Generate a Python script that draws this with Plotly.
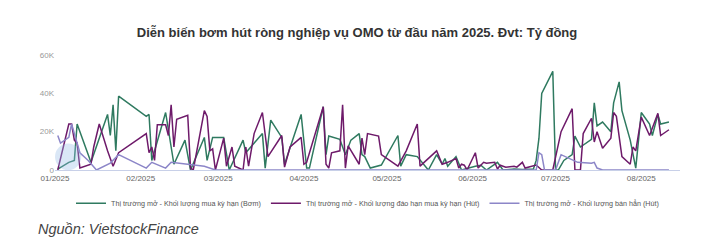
import plotly.graph_objects as go

# ---- Data (tỷ đồng) ----
bom_dates = ["2025-01-02","2025-01-06","2025-01-08","2025-01-09","2025-01-14","2025-01-20","2025-01-21","2025-01-22","2025-01-23","2025-01-24",
             "2025-02-03","2025-02-04","2025-02-05","2025-02-10","2025-02-13","2025-02-17","2025-02-19","2025-02-24","2025-02-25","2025-02-27",
             "2025-03-03","2025-03-05","2025-03-10","2025-03-11","2025-03-17","2025-03-18","2025-03-20","2025-03-24","2025-03-25","2025-03-31",
             "2025-04-02","2025-04-03","2025-04-08","2025-04-09","2025-04-10","2025-04-14","2025-04-16","2025-04-18","2025-04-21","2025-04-22",
             "2025-04-23","2025-04-25","2025-04-29","2025-05-05","2025-05-06","2025-05-08","2025-05-12","2025-05-16","2025-05-19","2025-05-21",
             "2025-05-22","2025-05-23","2025-05-26","2025-05-28","2025-06-02","2025-06-04","2025-06-06","2025-06-10","2025-06-12","2025-06-16",
             "2025-06-19","2025-06-23","2025-06-24","2025-06-25","2025-06-26","2025-06-30","2025-07-01","2025-07-02","2025-07-04","2025-07-07",
             "2025-07-08","2025-07-10","2025-07-14","2025-07-15","2025-07-16","2025-07-18","2025-07-21","2025-07-22","2025-07-24","2025-07-25",
             "2025-07-28","2025-07-30","2025-08-01","2025-08-04","2025-08-05","2025-08-07","2025-08-08","2025-08-11"]
bom_vals = [500,4000,5000,24000,4000,29000,18000,34000,10000,38500,
            28000,29000,5000,30000,3000,15600,0,17000,5000,17000,
            17000,0,15600,9000,19000,1000,26000,17000,3000,29000,
            1000,1000,33000,8000,17700,16000,8000,15600,19000,8000,
            7000,1000,2600,18000,2000,8000,7000,0,8000,3000,
            6000,2000,7000,0,2000,2500,0,4000,0,500,
            300,500,5000,16600,40000,51500,0,0,5000,8000,
            17700,12000,16000,35000,23000,25000,20000,35000,46000,31000,
            15600,1000,30000,24000,18000,29000,24000,25000]

dao_han_dates = ["2025-01-02","2025-01-06","2025-01-07","2025-01-08","2025-01-09","2025-01-10","2025-01-14","2025-01-15","2025-01-17","2025-01-20",
                 "2025-01-22","2025-01-24","2025-02-03","2025-02-04","2025-02-05","2025-02-06","2025-02-07","2025-02-10","2025-02-11","2025-02-12",
                 "2025-02-13","2025-02-14","2025-02-18","2025-02-19","2025-02-20","2025-02-24","2025-02-25","2025-02-26","2025-02-27","2025-02-28",
                 "2025-03-03","2025-03-04","2025-03-06","2025-03-07","2025-03-10","2025-03-11","2025-03-12","2025-03-14","2025-03-17","2025-03-19",
                 "2025-03-24","2025-03-25","2025-03-27","2025-03-31","2025-04-01","2025-04-02","2025-04-08","2025-04-09","2025-04-10","2025-04-11",
                 "2025-04-14","2025-04-15","2025-04-16","2025-04-17","2025-04-21","2025-04-22","2025-04-23","2025-04-24","2025-04-28","2025-04-29",
                 "2025-05-05","2025-05-08","2025-05-12","2025-05-13","2025-05-19","2025-05-21","2025-05-23","2025-05-26","2025-05-27","2025-05-28",
                 "2025-05-29","2025-05-30","2025-06-02","2025-06-03","2025-06-05","2025-06-06","2025-06-09","2025-06-10","2025-06-11","2025-06-13",
                 "2025-06-16","2025-06-17","2025-06-19","2025-06-20","2025-06-24","2025-06-26","2025-06-30","2025-07-03","2025-07-07","2025-07-08",
                 "2025-07-10","2025-07-11","2025-07-14","2025-07-15","2025-07-16","2025-07-18","2025-07-21","2025-07-22","2025-07-23","2025-07-25",
                 "2025-07-28","2025-07-29","2025-07-30","2025-08-01","2025-08-04","2025-08-07","2025-08-08","2025-08-11"]
dao_han_vals = [0,24000,24000,15600,14000,1000,3000,12000,24000,10000,
                2000,9000,19000,9000,12000,5000,23600,23600,18000,34000,
                12000,26500,28600,1000,0,31000,28000,10000,11000,0,
                16600,2000,12000,2000,0,12000,2000,19000,30000,7000,
                18000,1500,12000,17000,3000,4000,33000,3000,1000,9000,
                10000,34000,1000,12600,3000,16600,8000,19000,17700,8000,
                2000,10000,24000,2000,10000,3000,4000,6000,1000,3000,
                2500,0,9000,1000,4000,3500,4000,500,2500,1500,
                2000,1500,4000,1000,2600,0,0,20000,32000,0,
                0,19000,27000,14600,20000,11400,16600,30000,28000,7000,
                3000,12000,10000,27600,18000,29600,18000,21000]

ban_han_dates = ["2025-01-02","2025-01-03","2025-01-06","2025-01-07","2025-01-10","2025-01-13","2025-01-16","2025-01-21","2025-01-24","2025-02-03",
                 "2025-02-05","2025-02-10","2025-02-12","2025-02-18","2025-02-24","2025-02-28","2025-03-14","2025-04-15","2025-05-15","2025-06-16",
                 "2025-06-24","2025-06-25","2025-06-26","2025-06-27","2025-07-01","2025-07-03","2025-07-09","2025-07-14","2025-07-15","2025-07-16",
                 "2025-07-18","2025-07-28","2025-08-11"]
ban_han_vals = [18000,14000,17000,24000,9000,5000,0,3600,8000,1000,
                4000,1000,4000,3000,2000,0,0,0,0,0,
                0,9000,8000,0,0,8000,4000,3500,4000,1000,
                0,0,0]

series_names = ["Thị trường mở - Khối lượng mua kỳ hạn (Bơm)",
                "Thị trường mở - Khối lượng đáo hạn mua kỳ hạn (Hút)",
                "Thị trường mở - Khối lượng bán hẳn (Hút)"]
series_colors = ["#2f7a60", "#6e1a6a", "#8c86c8"]

y_tickvals = [0, 20000, 40000, 60000]
y_ticktext = ["0", "20K", "40K", "60K"]

fig = go.Figure()
for dates, vals, name, color in [
    (bom_dates, bom_vals, series_names[0], series_colors[0]),
    (dao_han_dates, dao_han_vals, series_names[1], series_colors[1]),
    (ban_han_dates, ban_han_vals, series_names[2], series_colors[2]),
]:
    fig.add_trace(go.Scatter(x=dates, y=vals, mode="lines", name=name,
                             line=dict(color=color, width=1.5)))

fig.update_layout(
    width=707, height=252,
    margin=dict(l=55, r=27, t=55, b=82),
    paper_bgcolor="white", plot_bgcolor="white",
    font=dict(family="Liberation Sans, Arial, sans-serif", color="#666"),
    title=dict(text="<b>Diễn biến bơm hút ròng nghiệp vụ OMO từ đầu năm 2025. Đvt: Tỷ đồng</b>",
               x=0.505, xanchor="center", y=0.873, yanchor="middle",
               font=dict(size=13, color="#333")),
    showlegend=True,
    legend=dict(orientation="h", x=0.5, xanchor="center", y=-0.29, yanchor="middle",
                font=dict(size=7.2, color="#555"), itemwidth=30, bgcolor="rgba(0,0,0,0)"),
    xaxis=dict(type="date", range=["2025-01-01", "2025-08-15"], tickformat="%m/%Y", dtick="M1",
               tick0="2025-01-01", showgrid=False, showline=True, linecolor="#c8d0e8", linewidth=1,
               ticks="", tickfont=dict(size=8, color="#666"), zeroline=False),
    yaxis=dict(range=[0, 60000], tickvals=y_tickvals, ticktext=y_ticktext, showgrid=False,
               showline=False, zeroline=False, tickfont=dict(size=8, color="#999"), ticks=""),
    annotations=[dict(text="<i>Nguồn: VietstockFinance</i>", xref="paper", yref="paper",
                      x=-0.03, y=-0.51, xanchor="left", yanchor="middle", showarrow=False,
                      font=dict(size=14.5, color="#444"))],
    shapes=[dict(type="circle", xref="paper", yref="paper", x0=0.0, x1=0.042, y0=0.0, y1=0.23,
                 fillcolor="rgba(150,185,230,0.35)", line=dict(width=0), layer="above")],
)

fig.write_html("out.html")
